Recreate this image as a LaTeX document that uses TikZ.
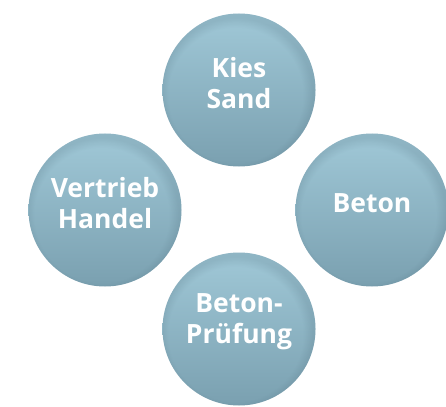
\documentclass[tikz,border=0pt]{standalone}
\usepackage{fontspec}
\usetikzlibrary{fadings}
\setmainfont{Open Sans}[UprightFont=* Bold]
\definecolor{ctop}{RGB}{160,200,215}
\definecolor{cbot}{RGB}{122,160,176}
\definecolor{cedge}{RGB}{70,100,115}
\pgfdeclareradialshading{ringshade}{\pgfpoint{-2bp}{-3bp}}{color(0bp)=(transparent!100); color(22bp)=(transparent!100); color(25bp)=(transparent!82); color(50bp)=(transparent!82)}
\pgfdeclarefading{ring}{\pgfuseshading{ringshade}}
\begin{document}
\begin{tikzpicture}[x=1pt,y=-1pt]
\tikzset{
  ball/.style={circle, minimum size=153pt, inner sep=0pt,
    top color=ctop, bottom color=cbot,
    path picture={\fill[cedge, path fading=ring, fit fading=true]
      (path picture bounding box.south west) rectangle (path picture bounding box.north east);}},
  lbl/.style={text=white, font=\fontsize{26.5}{31}\selectfont, align=center, inner sep=0pt}
}
\useasboundingbox (0,0) rectangle (446,406);
\node[ball] (kies) at (239,90) {};
\node[ball] (vertrieb) at (105,210) {};
\node[ball] (beton) at (372,210) {};
\node[ball] (pruef) at (239,329) {};
\node[lbl] (kiesT) at ([yshift=7pt]kies.center) {Kies\\Sand};
\node[lbl] (vertriebT) at ([yshift=7pt]vertrieb.center) {Vertrieb\\Handel};
\node[lbl] (betonT) at ([yshift=7pt]beton.center) {Beton};
\node[lbl] (pruefT) at ([yshift=7pt]pruef.center) {Beton-\\Prüfung};
\end{tikzpicture}
\end{document}
